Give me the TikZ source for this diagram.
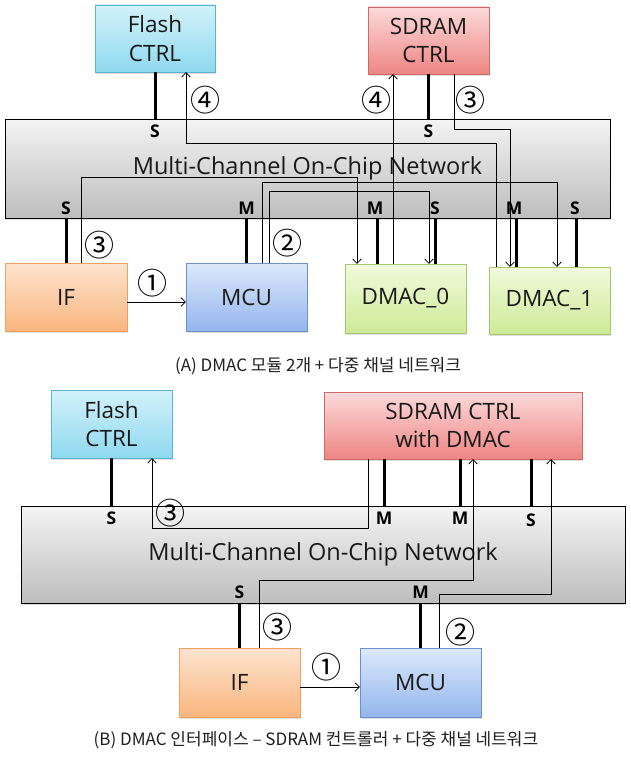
\documentclass[tikz,border=0pt]{standalone}
\usepackage{fontspec}
\setmainfont{Open Sans}
\newfontfamily\kr{Noto Sans CJK KR}
\usetikzlibrary{calc,shadows,arrows.meta}
\definecolor{flashT}{HTML}{D2F2FA}\definecolor{flashB}{HTML}{8ED9EE}\definecolor{flashD}{HTML}{5AB4D0}
\definecolor{sdT}{HTML}{FBDADA}\definecolor{sdB}{HTML}{EE8583}\definecolor{sdD}{HTML}{D06A68}
\definecolor{ifT}{HTML}{FDE4CF}\definecolor{ifB}{HTML}{F9B57E}\definecolor{ifD}{HTML}{F0A060}
\definecolor{mcT}{HTML}{DDE8FA}\definecolor{mcB}{HTML}{93B6EE}\definecolor{mcD}{HTML}{6C90C8}
\definecolor{dmT}{HTML}{F2FADC}\definecolor{dmB}{HTML}{CDEA96}\definecolor{dmD}{HTML}{A8C870}
\definecolor{ntT}{HTML}{F4F4F4}\definecolor{ntB}{HTML}{BDBDBD}
\begin{document}
\begin{tikzpicture}[x=1pt,y=-1pt,
  box/.style={draw, line width=0.8pt, inner sep=0pt, outer sep=0pt, align=center,
    font=\fontsize{22.5}{28.5}\selectfont, text=black!90,
    drop shadow={shadow xshift=1.2pt,shadow yshift=-1.5pt,opacity=0.25}},
  flashbox/.style={box, draw=flashD, top color=flashT, bottom color=flashB},
  sdbox/.style={box, draw=sdD, top color=sdT, bottom color=sdB},
  ifbox/.style={box, draw=ifD, top color=ifT, bottom color=ifB},
  mcubox/.style={box, draw=mcD, top color=mcT, bottom color=mcB},
  dmbox/.style={box, draw=dmD, top color=dmT, bottom color=dmB},
  netbox/.style={box, draw=black, line width=1pt, top color=ntT, bottom color=ntB,
    font=\fontsize{23.5}{28}\selectfont},
  lab/.style={font=\bfseries\fontsize{17.5}{17.5}\selectfont, inner sep=0pt},
  circ/.style={font=\kr\fontsize{30}{30}\selectfont, inner sep=0pt},
  captext/.style={font=\kr\fontsize{17}{17}\selectfont, inner sep=0pt, text=black!88},
  thk/.style={line width=3pt},
  arr/.style={line width=0.75pt, -{Straight Barb[length=4.5pt,width=8.5pt]}}
]
\useasboundingbox (0,0) rectangle (631,760);

% ================= (A) =================
\node[netbox, minimum width=605, minimum height=99] (netA) at (307.5,168.5) {Multi-Channel On-Chip Network};
\node[flashbox, minimum width=120, minimum height=67] (flashA) at (155,38.5) {Flash\\CTRL};
\node[sdbox, minimum width=121, minimum height=67] (sdramA) at (428.5,40.5) {SDRAM\\CTRL};
\node[ifbox, minimum width=122, minimum height=68] (ifA) at (66,297) {IF};
\node[mcubox, minimum width=121, minimum height=68] (mcuA) at (246.5,297) {MCU};
\node[dmbox, minimum width=121, minimum height=69] (dmac0A) at (405.5,298.5) {DMAC\_0};
\node[dmbox, minimum width=121, minimum height=67] (dmac1A) at (549.5,300.5) {DMAC\_1};

% thick ports
\draw[thk] (flashA.south) -- (flashA.south |- netA.north);
\draw[thk] (sdramA.south) -- (sdramA.south |- netA.north);
\draw[thk] (ifA.north) -- (ifA.north |- netA.south);
\draw[thk] (mcuA.north) -- (mcuA.north |- netA.south);
\draw[thk] ($(dmac0A.north west)+(32,0)$) coordinate (d0m) -- (d0m |- netA.south);
\draw[thk] ($(dmac0A.north west)+(90,0)$) coordinate (d0s) -- (d0s |- netA.south);
\draw[thk] ($(dmac1A.north west)+(27,0)$) coordinate (d1m) -- (d1m |- netA.south);
\draw[thk] ($(dmac1A.north west)+(87,0)$) coordinate (d1s) -- (d1s |- netA.south);

% port labels
\node[lab] (pA1) at ($(flashA.south |- netA.north)+(0,12)$) {S};
\node[lab] (pA2) at ($(sdramA.south |- netA.north)+(0,12)$) {S};
\node[lab] (pA3) at ($(ifA.north |- netA.south)+(0,-10)$) {S};
\node[lab] (pA4) at ($(mcuA.north |- netA.south)+(0,-10)$) {M};
\node[lab] (pA5) at ($(d0m |- netA.south)+(-2,-10)$) {M};
\node[lab] (pA6) at ($(d0s |- netA.south)+(0,-10)$) {S};
\node[lab] (pA7) at ($(d1m |- netA.south)+(-2,-10)$) {M};
\node[lab] (pA8) at ($(d1s |- netA.south)+(-1,-10)$) {S};

% thin connectors
\draw[arr] ($(ifA.east)+(0,5)$) -- ($(mcuA.west)+(0,5)$);
\draw[arr] ($(ifA.north)+(15,0)$) -- ++(0,-86) -| ($(dmac0A.north west)+(12,0)$);
\draw[arr] ($(mcuA.north)+(15.5,0)$) -- ++(0,-81) -| ($(dmac1A.north west)+(68,0)$);
\draw[arr] ($(mcuA.north)+(22.5,0)$) -- ++(0,-72) -| ($(dmac0A.north west)+(84,0)$);
\draw[arr] ($(dmac0A.north west)+(48,0)$) coordinate (p4) -- (p4 |- sdramA.south);
\draw[arr] ($(dmac1A.north west)+(7,0)$) -- ++(0,-124) -| ($(flashA.south)+(31,0)$);
\draw[arr] ($(sdramA.south)+(25.5,0)$) -- ++(0,55) -| ($(dmac1A.north west)+(21,0)$);

% step numbers
\node[circ] (nA1) at (152,283) {①};
\node[circ] (nA2) at (99,245) {③};
\node[circ] (nA3) at (287,243) {②};
\node[circ] (nA4) at (205,100) {④};
\node[circ] (nA5) at (376,100) {④};
\node[circ] (nA6) at (470,100) {③};

\node[captext] (capA) at (318,366) {(A) DMAC 모듈 2개 + 다중 채널 네트워크};

% ================= (B) =================
\node[netbox, minimum width=604, minimum height=97] (netB) at (323,554.5) {Multi-Channel On-Chip Network};
\node[flashbox, minimum width=121, minimum height=68] (flashB) at (111.5,424) {Flash\\CTRL};
\node[sdbox, minimum width=258, minimum height=67] (sdramB) at (453,425.5) {SDRAM CTRL\\with DMAC};
\node[ifbox, minimum width=121, minimum height=69] (ifB) at (239.5,682.5) {IF};
\node[mcubox, minimum width=121, minimum height=69] (mcuB) at (420.5,682.5) {MCU};

\draw[thk] (flashB.south) -- (flashB.south |- netB.north);
\draw[thk] ($(sdramB.south west)+(60,0)$) coordinate (s1) -- (s1 |- netB.north);
\draw[thk] ($(sdramB.south west)+(136,0)$) coordinate (s2) -- (s2 |- netB.north);
\draw[thk] ($(sdramB.south west)+(207,0)$) coordinate (s3) -- (s3 |- netB.north);
\draw[thk] (ifB.north) -- (ifB.north |- netB.south);
\draw[thk] (mcuB.north) -- (mcuB.north |- netB.south);

\node[lab] (pB1) at ($(flashB.south |- netB.north)+(0,12)$) {S};
\node[lab] (pB2) at ($(s1 |- netB.north)+(0,12)$) {M};
\node[lab] (pB3) at ($(s2 |- netB.north)+(0,12)$) {M};
\node[lab] (pB4) at ($(s3 |- netB.north)+(0,14)$) {S};
\node[lab] (pB5) at ($(ifB.north |- netB.south)+(0,-11)$) {S};
\node[lab] (pB6) at ($(mcuB.north |- netB.south)+(0,-11)$) {M};

\draw[arr] ($(ifB.east)+(0,4.5)$) -- ($(mcuB.west)+(0,4.5)$);
\draw[arr] ($(ifB.north)+(19.5,0)$) -- ++(0,-68) -| ($(sdramB.south west)+(149,0)$);
\draw[arr] ($(mcuB.north west)+(79,0)$) -- ++(0,-54) -| ($(sdramB.south west)+(227,0)$);
\draw[arr] ($(sdramB.south west)+(44,0)$) -- ++(0,69) -| ($(flashB.south west)+(101,0)$);

\node[circ] (nB1) at (170,513) {③};
\node[circ] (nB2) at (326,667) {①};
\node[circ] (nB3) at (277,627) {③};
\node[circ] (nB4) at (460,632) {②};

\node[captext] (capB) at (316,740) {(B) DMAC 인터페이스 – SDRAM 컨트롤러 + 다중 채널 네트워크};
\end{tikzpicture}
\end{document}
